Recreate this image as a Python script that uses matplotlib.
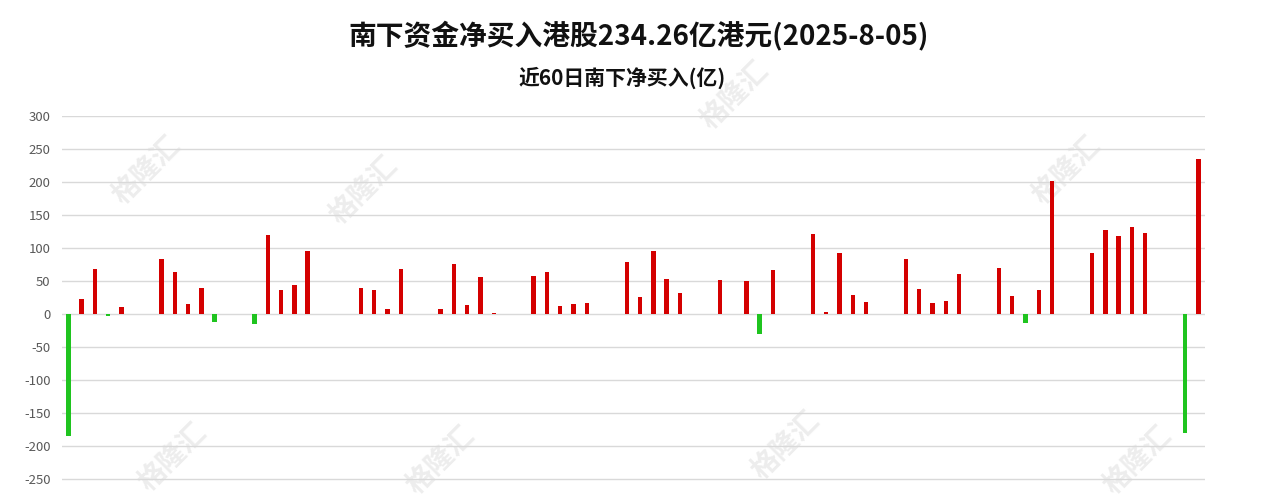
import pandas as pd
import matplotlib
matplotlib.use('Agg')
import matplotlib.pyplot as plt

plt.rcParams['font.family'] = ['Noto Sans CJK SC', 'DejaVu Sans']
plt.rcParams['axes.unicode_minus'] = False

# ---- data (亿港元) ----
dates = ['2025-05-12', '2025-05-13', '2025-05-14', '2025-05-15', '2025-05-16',
         '2025-05-19', '2025-05-20', '2025-05-21', '2025-05-22', '2025-05-23',
         '2025-05-26', '2025-05-27', '2025-05-28', '2025-05-29', '2025-05-30',
         '2025-06-03', '2025-06-04', '2025-06-05', '2025-06-06',
         '2025-06-09', '2025-06-10', '2025-06-11', '2025-06-12', '2025-06-13',
         '2025-06-16', '2025-06-17', '2025-06-18', '2025-06-19', '2025-06-20',
         '2025-06-23', '2025-06-24', '2025-06-25', '2025-06-26', '2025-06-27',
         '2025-06-30', '2025-07-02', '2025-07-03', '2025-07-04',
         '2025-07-07', '2025-07-08', '2025-07-09', '2025-07-10', '2025-07-11',
         '2025-07-14', '2025-07-15', '2025-07-16', '2025-07-17', '2025-07-18',
         '2025-07-21', '2025-07-22', '2025-07-23', '2025-07-24', '2025-07-25',
         '2025-07-28', '2025-07-29', '2025-07-30', '2025-07-31', '2025-08-01',
         '2025-08-04', '2025-08-05']
net_buy = [-185, 23, 68, -3, 11,
           84, 63, 15, 39, -12,
           -15, 120, 36, 44, 96,
           39, 36, 8, 68,
           7, 76, 14, 56, 2,
           57, 63, 12, 15, 16,
           79, 26, 96, 53, 31,
           52, 50, -30, 67,
           121, 3, 92, 29, 18,
           83, 38, 16, 19, 60,
           70, 27, -13, 37, 202,
           93, 127, 118, 132, 122,
           -181, 234.26]

title = '南下资金净买入港股234.26亿港元(2025-8-05)'
subtitle = '近60日南下净买入(亿)'
yticks = list(range(-250, 301, 50))

red = '#d40000'
green = '#1fc41f'
grid_c = '#d9d9d9'

x = pd.to_datetime(dates)
colors = [red if v >= 0 else green for v in net_buy]

fig = plt.figure(figsize=(12.78, 5.0), dpi=100)
ax = fig.add_axes([0.0483, 0.0, 0.8946, 0.768])

# faint watermarks, drawn behind the axes
wm = [(0.115, 0.66), (0.285, 0.62), (0.575, 0.81), (0.835, 0.66),
      (0.135, 0.085), (0.345, 0.08), (0.615, 0.11), (0.89, 0.08)]
for wx, wy in wm:
    fig.text(wx, wy, '格隆汇', rotation=45, fontsize=20, fontweight='bold',
             color='#ededed', ha='center', va='center', zorder=-1)

ax.bar(x, net_buy, width=0.33, color=colors, zorder=3)

ax.set_ylim(-282, 300)
ax.set_yticks(yticks)
ax.set_xlim(x[0] - pd.Timedelta(hours=12), x[-1] + pd.Timedelta(hours=12))
ax.set_xticks([])
ax.grid(axis='y', color=grid_c, linewidth=1.0, zorder=0)
ax.set_axisbelow(True)
for s in ax.spines.values():
    s.set_visible(False)
ax.tick_params(axis='y', length=0, pad=8, labelsize=9.5, labelcolor='#595959')
ax.patch.set_alpha(0)

fig.text(0.4996, 1 - 35 / 500, title, ha='center', va='center',
         fontsize=20, fontweight='bold', color='#111111', zorder=5)
fig.text(0.487, 1 - 78 / 500, subtitle, ha='center', va='center',
         fontsize=15, fontweight='bold', color='#111111', zorder=5)

fig.savefig('out.png', dpi=100)
